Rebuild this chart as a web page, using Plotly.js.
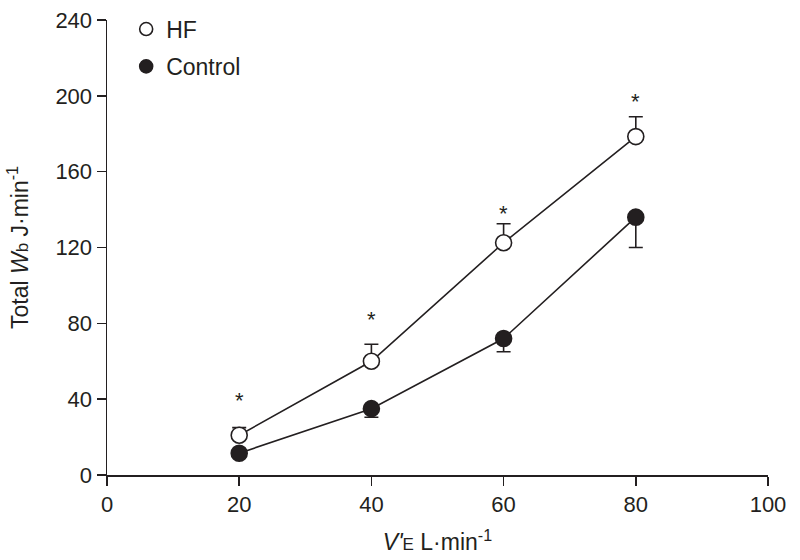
<!DOCTYPE html>
<html><head><meta charset="utf-8">
<script src="https://cdn.plot.ly/plotly-3.0.1.min.js"></script>
<style>html,body{margin:0;padding:0;background:#fff}#chart{width:800px;height:560px}</style>
</head><body><div id="chart"></div>
<script>
const ve = [20, 40, 60, 80];
const hfWork = [21, 60, 122.5, 178.5];
const hfErr = [4, 9, 10, 10.5];
const controlWork = [11.5, 35, 72, 136];
const controlErr = [1, 4.5, 7, 16];
const starY = [39.5, 82, 138, 197];
const xTicks = [0, 20, 40, 60, 80, 100];
const yTicks = [0, 40, 80, 120, 160, 200, 240];

const ink = '#231f20';
const fam = 'Liberation Sans, Arial, sans-serif';
const font = {family: fam, color: ink, size: 22};

const traces = [
  {
    x: ve, y: hfWork, name: 'HF', mode: 'lines+markers', type: 'scatter', showlegend: false,
    line: {color: ink, width: 1.6},
    marker: {symbol: 'circle', size: 16, color: '#fff', line: {color: ink, width: 1.6}},
    error_y: {type: 'data', array: hfErr, arrayminus: hfErr.map(() => 0), symmetric: false, color: ink, thickness: 1.6, width: 7}
  },
  {
    x: ve, y: controlWork, name: 'Control', mode: 'lines+markers', type: 'scatter', showlegend: false,
    line: {color: ink, width: 1.6},
    marker: {symbol: 'circle', size: 16, color: ink, line: {color: ink, width: 1.6}},
    error_y: {type: 'data', array: controlErr.map(() => 0), arrayminus: controlErr, symmetric: false, color: ink, thickness: 1.6, width: 7}
  },
  {
    x: [null], y: [null], name: 'HF', mode: 'markers', type: 'scatter', showlegend: true, legend: 'legend',
    marker: {symbol: 'circle', size: 13, color: '#fff', line: {color: ink, width: 1.6}}
  },
  {
    x: [null], y: [null], name: 'Control', mode: 'markers', type: 'scatter', showlegend: true, legend: 'legend2',
    marker: {symbol: 'circle', size: 13, color: ink, line: {color: ink, width: 1.6}}
  }
];

const annotations = ve.map((x, i) => ({
  x: x, y: starY[i], xref: 'x', yref: 'y', text: '*', showarrow: false,
  font: {family: fam, color: ink, size: 22}
}));

const legendBase = {xanchor: 'left', yanchor: 'middle', bgcolor: 'rgba(0,0,0,0)', font: {family: fam, size: 23, color: ink}};

const layout = {
  width: 800, height: 560,
  margin: {l: 107, r: 32, t: 20, b: 85, autoexpand: false},
  paper_bgcolor: '#fff', plot_bgcolor: '#fff',
  font: font,
  showlegend: true,
  legend: Object.assign({x: 0.029, y: 0.980}, legendBase),
  legend2: Object.assign({x: 0.029, y: 0.898}, legendBase),
  xaxis: {
    range: [0, 100], tickvals: xTicks, ticktext: xTicks.map(String), automargin: false,
    showgrid: false, zeroline: false, showline: true, linecolor: ink, linewidth: 1.5,
    ticks: 'outside', ticklen: 9, tickwidth: 1.5, tickcolor: ink,
    tickfont: {family: fam, size: 22, color: ink},
    title: {text: '<i>V\'</i><span style="font-size:17px">E</span> L·min<sup>-1</sup>', font: {family: fam, size: 23, color: ink}, standoff: 18}
  },
  yaxis: {
    range: [0, 240], tickvals: yTicks, ticktext: yTicks.map(String), automargin: false,
    showgrid: false, zeroline: false, showline: true, linecolor: ink, linewidth: 1.5,
    ticks: 'outside', ticklen: 9, tickwidth: 1.5, tickcolor: ink,
    tickfont: {family: fam, size: 22, color: ink},
    title: {text: 'Total <i>W</i><span style="font-size:17px">b</span> J·min<sup>-1</sup>', font: {family: fam, size: 23, color: ink}, standoff: 20}
  },
  annotations: annotations
};

Plotly.newPlot('chart', traces, layout, {displayModeBar: false, staticPlot: true});
</script>
</body></html>
